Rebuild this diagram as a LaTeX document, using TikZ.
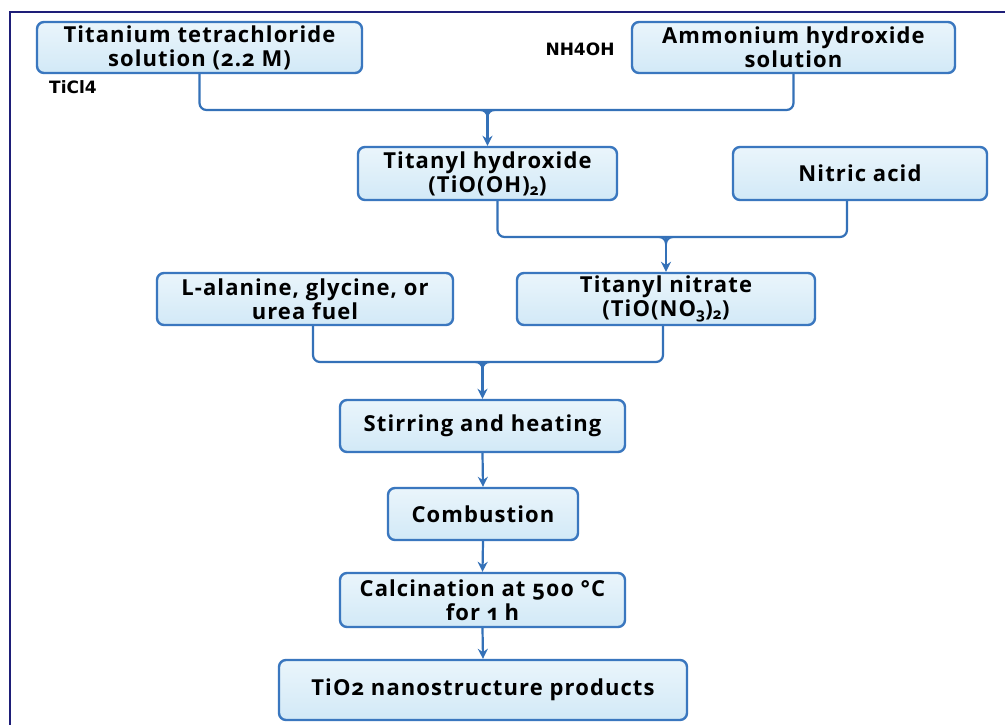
\documentclass[tikz,border=0pt]{standalone}
\usepackage{fontspec}
\setmainfont{Open Sans}[Numbers=OldStyle,LetterSpace=5]
\newfontfamily\lblfont{DejaVu Sans}
\usetikzlibrary{arrows.meta,calc}
\definecolor{framec}{HTML}{1E1E78}
\definecolor{boxline}{HTML}{3A77BF}
\definecolor{boxtop}{HTML}{D2E9F7}
\definecolor{boxbot}{HTML}{EAF5FB}
\definecolor{connc}{HTML}{3471B8}
\begin{document}
\begin{tikzpicture}[x=1pt,y=-1pt,
  box/.style={draw=boxline, line width=2.4pt, rounded corners=7pt,
    top color=boxbot, bottom color=boxtop, align=center, inner sep=0pt,
    font=\bfseries\fontsize{22}{24}\selectfont, text=black},
  lbl/.style={font=\lblfont\bfseries\fontsize{17}{19}\selectfont, inner sep=0pt, text=black},
  conn/.style={draw=connc, line width=2.2pt, rounded corners=7pt},
  fil/.style={draw=connc, line width=2pt},
  arr/.style={draw=connc, line width=2.2pt, -{Stealth[length=10pt,width=10pt]}}]
\useasboundingbox (0,0) rectangle (1005,724);
\fill[white] (0,0) rectangle (1005,724);
\draw[framec, line width=2.2pt] (10,726) -- (10,12) -- (1006,12);

\node[box, minimum width=325pt, minimum height=51pt] (b1) at (199.5,47.5) {Titanium tetrachloride\\solution (2.2 M)};
\node[box, minimum width=323pt, minimum height=51pt] (b2) at (793.5,47.5) {Ammonium hydroxide\\solution};
\node[lbl] (l1) at (73,87) {TiCl4};
\node[lbl] (l2) at (580,49) {NH4OH};
\node[box, minimum width=259pt, minimum height=53pt] (b3) at (487.5,173.5) {Titanyl hydroxide\\(TiO(OH)\textsubscript{2})};
\node[box, minimum width=254pt, minimum height=53pt] (b4) at (860,173.5) {Nitric acid};
\node[box, minimum width=296pt, minimum height=52pt] (b5) at (305,299) {L-alanine, glycine, or\\urea fuel};
\node[box, minimum width=298pt, minimum height=52pt] (b6) at (666,299) {Titanyl nitrate\\(TiO(NO\textsubscript{3})\textsubscript{2})};
\node[box, minimum width=285pt, minimum height=52pt] (b7) at (482.5,426) {Stirring and heating};
\node[box, minimum width=190pt, minimum height=52pt] (b8) at (483,514) {Combustion};
\node[box, minimum width=285pt, minimum height=54pt] (b9) at (482.5,600) {Calcination at 500 °C\\for 1 h};
\node[box, minimum width=408pt, minimum height=60pt] (b10) at (483,690) {TiO2 nanostructure products};

% first merge
\coordinate (j1) at (487.5,110);
\draw[conn] (b1.south) -- (b1.south |- j1) -- (b2.south |- j1) -- (b2.south);
\draw[fil] ($(j1)+(-7,0)$) to[out=0,in=90] ($(j1)+(0,7)$) to[out=90,in=180] ($(j1)+(7,0)$);
\draw[arr] (j1) -- (b3.north);

% second merge
\coordinate (c3) at ([xshift=10pt]b3.south);
\coordinate (c4) at ([xshift=-13pt]b4.south);
\coordinate (j2) at (666,237);
\draw[conn] (c3) -- (c3 |- j2) -- (c4 |- j2) -- (c4);
\draw[fil] ($(j2)+(-7,0)$) to[out=0,in=90] ($(j2)+(0,7)$) to[out=90,in=180] ($(j2)+(7,0)$);
\draw[arr] (j2) -- (b6.north);

% third merge
\coordinate (c5) at ([xshift=8pt]b5.south);
\coordinate (c6) at ([xshift=-3pt]b6.south);
\coordinate (j3) at (482.5,362);
\draw[conn] (c5) -- (c5 |- j3) -- (c6 |- j3) -- (c6);
\draw[fil] ($(j3)+(-7,0)$) to[out=0,in=90] ($(j3)+(0,7)$) to[out=90,in=180] ($(j3)+(7,0)$);
\draw[arr] (j3) -- (b7.north);

\draw[arr] (b7.south) -- (b8.north);
\draw[arr] (b8.south) -- (b9.north);
\draw[arr] (b9.south) -- (b10.north);
\end{tikzpicture}
\end{document}
